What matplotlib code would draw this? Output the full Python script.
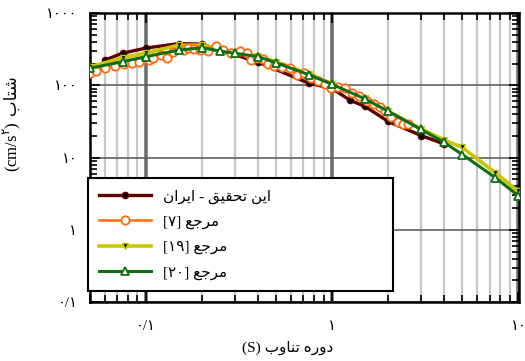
import numpy as np
import matplotlib
matplotlib.use('Agg')
import matplotlib.pyplot as plt
from matplotlib.ticker import LogLocator, FixedLocator, FixedFormatter, NullFormatter

# spectral periods (s) and spectral acceleration (cm/s^2)
periods_ours = [0.06, 0.075, 0.1, 0.15, 0.2, 0.4, 0.75, 1.0, 1.25, 1.5, 2.0, 3.0, 4.0]
sa_ours = [222, 278, 327, 377, 371, 209, 107, 90, 62, 51, 31.6, 20.2, 15.4]

periods_7 = [0.05, 0.054, 0.06, 0.068, 0.076, 0.084, 0.092, 0.104, 0.109, 0.12,
             0.13, 0.14, 0.16, 0.169, 0.182, 0.196, 0.216, 0.239, 0.261, 0.288,
             0.322, 0.347, 0.365, 0.393, 0.424, 0.451, 0.486, 0.537, 0.593, 0.647,
             0.706, 0.769, 0.84, 0.917, 0.989, 1.08, 1.175, 1.28, 1.4, 1.53,
             1.67, 1.8, 1.93, 2.08, 2.25, 2.39, 2.54]
sa_7 = [147, 156, 172, 184, 196, 202, 209, 222, 237, 261,
        237, 287, 306, 327, 316, 306, 297, 348, 306, 278,
        297, 278, 222, 237, 230, 196, 184, 178, 172, 138,
        147, 125, 114, 103, 91, 94, 91, 77, 70, 60,
        54.5, 49.5, 43.5, 37, 30.6, 28.7, 29.6]

periods_19 = [0.05, 0.075, 0.1, 0.15, 0.2, 0.25, 0.3, 0.4, 0.5, 0.75,
              1.0, 1.5, 2.0, 3.0, 4.0, 5.0, 7.5, 10.0]
sa_19 = [180, 240, 280, 359, 359, 320, 290, 255, 212, 145,
         104, 67, 44, 25, 17.5, 13.8, 6.2, 3.4]

periods_20 = [0.05, 0.075, 0.1, 0.15, 0.2, 0.25, 0.3, 0.4, 0.5, 0.75,
              1.0, 1.5, 2.0, 3.0, 4.0, 5.0, 7.5, 10.0]
sa_20 = [172, 212, 249, 306, 331, 297, 278, 249, 205, 140,
         103, 65, 43.6, 24.5, 16.2, 11, 5.3, 2.96]

y_ticks = [0.1, 1, 10, 100, 1000]
y_labels = ['0/1', '1', '10', '100', '1000']
x_ticks = [0.1, 1, 10]
x_labels = ['0/1', '1', '10']

# presentation forms: isolated, final, initial, medial
FORMS = {
    'ا': ('\ufe8d', '\ufe8e', None, None),
    'ب': ('\ufe8f', '\ufe90', '\ufe91', '\ufe92'),
    'ت': ('\ufe95', '\ufe96', '\ufe97', '\ufe98'),
    'ج': ('\ufe9d', '\ufe9e', '\ufe9f', '\ufea0'),
    'ح': ('\ufea1', '\ufea2', '\ufea3', '\ufea4'),
    'د': ('\ufea9', '\ufeaa', None, None),
    'ر': ('\ufead', '\ufeae', None, None),
    'ش': ('\ufeb5', '\ufeb6', '\ufeb7', '\ufeb8'),
    'ع': ('\ufec9', '\ufeca', '\ufecb', '\ufecc'),
    'ق': ('\ufed5', '\ufed6', '\ufed7', '\ufed8'),
    'م': ('\ufee1', '\ufee2', '\ufee3', '\ufee4'),
    'ن': ('\ufee5', '\ufee6', '\ufee7', '\ufee8'),
    'ه': ('\ufee9', '\ufeea', '\ufeeb', '\ufeec'),
    'و': ('\ufeed', '\ufeee', None, None),
    'ی': ('\ufeef', '\ufef0', '\ufef3', '\ufef4'),
}

FA_DIGITS = str.maketrans('0123456789', '۰۱۲۳۴۵۶۷۸۹')


def fa(text):
    # join letters and flip to visual order, since matplotlib draws left to right
    out = []
    for i, ch in enumerate(text):
        if ch not in FORMS:
            out.append(ch)
            continue
        prev = text[i - 1] if i > 0 else ''
        nxt = text[i + 1] if i + 1 < len(text) else ''
        iso, fin, ini, med = FORMS[ch]
        join_prev = prev in FORMS and FORMS[prev][2] is not None
        join_next = ini is not None and nxt in FORMS
        if join_prev and join_next:
            out.append(med)
        elif join_prev:
            out.append(fin)
        elif join_next:
            out.append(ini)
        else:
            out.append(iso)
    return ''.join(reversed(out))


def fa_num(s):
    return s.translate(FA_DIGITS)


plt.rcParams['font.family'] = ['Liberation Serif', 'DejaVu Sans']
plt.rcParams['mathtext.fontset'] = 'dejavusans'

fig = plt.figure(figsize=(5.25, 3.61), dpi=100)
ax = fig.add_axes([0.171, 0.163, 0.818, 0.801])

ax.plot(periods_ours, sa_ours, '-o', color='#5c0000', lw=2.4, ms=4.5,
        mfc='black', mec='#5c0000', mew=1, zorder=3,
        label=fa('این تحقیق - ایران'))
ax.plot(periods_7, sa_7, '-o', color='#ff6a10', lw=1.8, ms=6,
        mfc='white', mec='#ff6a10', mew=1.3, zorder=5,
        label='[' + fa_num('7') + '] ' + fa('مرجع'))
ax.plot(periods_19, sa_19, '-v', color='#c8c800', lw=2.6, ms=5,
        mfc='black', mec='#c8c800', mew=1, zorder=4,
        label='[' + fa_num('19') + '] ' + fa('مرجع'))
ax.plot(periods_20, sa_20, '-^', color='#0f6e0f', lw=2.2, ms=6,
        mfc='white', mec='#0f6e0f', mew=1.3, zorder=6,
        label='[' + fa_num('20') + '] ' + fa('مرجع'))

ax.set_xscale('log')
ax.set_yscale('log')
ax.set_xlim(0.05, 10.1)
ax.set_ylim(0.1, 1000)

ax.xaxis.set_major_locator(FixedLocator(x_ticks))
ax.xaxis.set_major_formatter(FixedFormatter([fa_num(s) for s in x_labels]))
ax.xaxis.set_minor_locator(LogLocator(base=10, subs=np.arange(2, 10)))
ax.xaxis.set_minor_formatter(NullFormatter())
ax.yaxis.set_major_locator(FixedLocator(y_ticks))
ax.yaxis.set_major_formatter(FixedFormatter([fa_num(s) for s in y_labels]))
ax.yaxis.set_minor_locator(LogLocator(base=10, subs=np.arange(2, 10)))
ax.yaxis.set_minor_formatter(NullFormatter())

ax.grid(which='major', axis='x', color='#6e6e6e', lw=2.6, zorder=1)
ax.grid(which='minor', axis='x', color='#c8c8c8', lw=1.6, zorder=1)
ax.grid(which='major', axis='y', color='#606060', lw=1.2, zorder=1)
ax.set_axisbelow(True)

ax.tick_params(which='both', direction='in', top=True, right=True,
               color='black', width=1.2)
ax.tick_params(which='major', length=7, labelsize=10.5, pad=9)
ax.tick_params(which='minor', length=5)
ax.tick_params(axis='x', which='major', pad=13)
for sp in ax.spines.values():
    sp.set_linewidth(1.8)

ax.set_xlabel('(S) ' + fa('دوره تناوب'), fontsize=11)
ax.xaxis.set_label_coords(0.46, -0.135)

# y label in two pieces: the unit needs mathtext, the Persian word needs the font fallback
ax.text(-0.182, 0.625, '(cm/s$^{' + fa_num('2') + '}$)', transform=ax.transAxes,
        rotation=90, ha='center', va='top', fontsize=12)
ax.text(-0.182, 0.648, fa('شتاب'), transform=ax.transAxes,
        rotation=90, ha='center', va='bottom', fontsize=12)

leg = ax.legend(loc='lower left', bbox_to_anchor=(-0.005, 0.038, 0.711, 0.39),
                mode='expand', borderaxespad=0, fancybox=False,
                edgecolor='black', framealpha=1, fontsize=11,
                handlelength=3.4, handletextpad=0.8, labelspacing=0.75,
                borderpad=0.75)
leg.get_frame().set_linewidth(1.5)
leg.set_zorder(10)

fig.savefig('out.png', dpi=100)
